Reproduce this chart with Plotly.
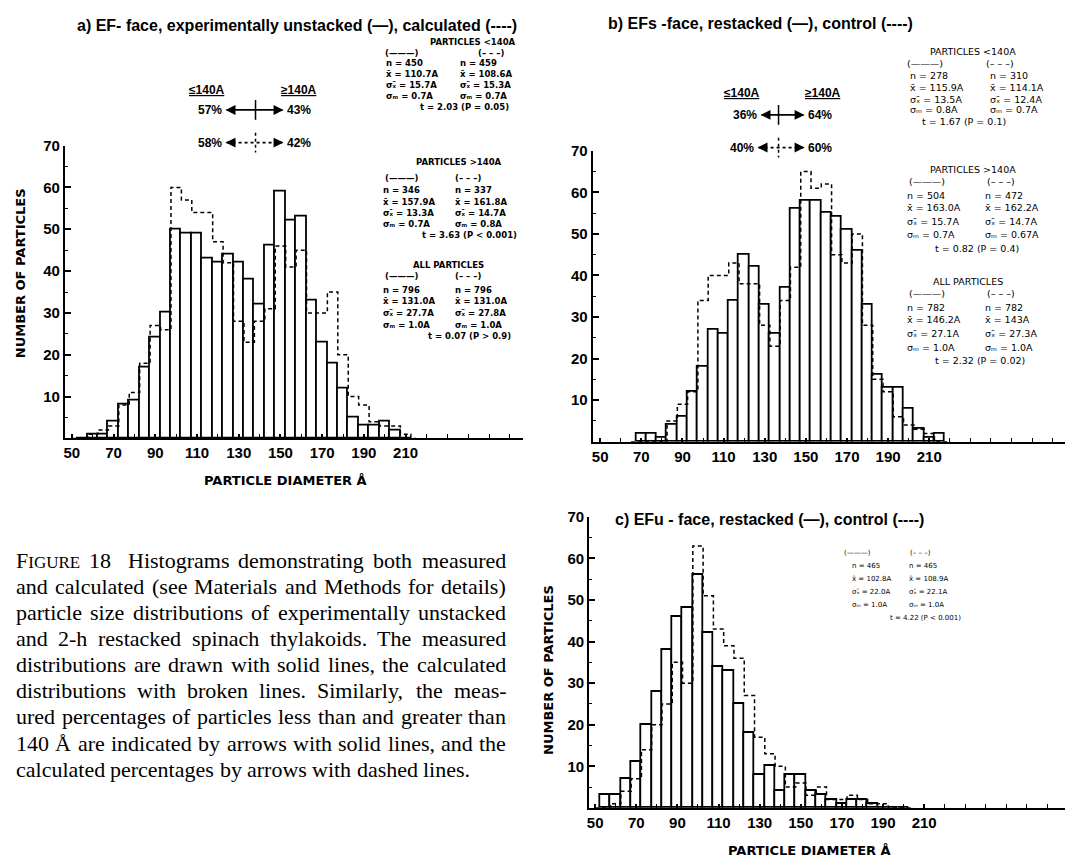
import plotly.graph_objects as go

W, H = 1071, 857
SANS = "Liberation Sans"
DJ = "DejaVu Sans"
SERIF = "Liberation Serif"

# ---------------- data ----------------
# a) EF-face, experimentally unstacked (measured) vs calculated
a_centers = list(range(55, 215, 5))
a_measured = [0, 1, 1, 4, 8, 9, 17, 24, 30, 50, 49, 49, 43, 42, 44, 42, 38, 32, 46, 59,
              52, 53, 33, 23, 18, 12, 5, 3, 3, 4, 2, 0]
a_calculated = [0, 1, 2, 3, 8, 11, 18, 27, 26, 60, 57, 54, 54, 47, 42, 28, 23, 28, 31, 46,
                41, 45, 30, 30, 35, 20, 10, 8, 4, 3, 3, 1]

# b) EFs-face, restacked vs control
b_centers = list(range(70, 220, 5))
b_measured = [2, 2, 1, 4, 6, 12, 18, 27, 26, 34, 45, 42, 33, 26, 37, 56, 58, 58, 55, 54,
              51, 46, 33, 16, 13, 13, 8, 3, 1, 2]
b_control = [0, 0, 0, 5, 9, 12, 34, 40, 40, 43, 38, 38, 28, 23, 34, 42, 65, 61, 62, 45,
             43, 50, 28, 15, 12, 6, 4, 3, 2, 0]

# c) EFu-face, restacked vs control
c_centers = list(range(55, 205, 5))
c_measured = [3, 3, 7, 11, 20, 28, 38, 46, 48, 56, 42, 34, 33, 25, 18, 8, 10, 4, 8, 8,
              4, 3, 2, 1, 2, 2, 1, 0, 0, 0]
c_control = [0, 1, 4, 7, 14, 20, 25, 35, 30, 63, 51, 43, 39, 36, 27, 17, 13, 10, 5, 6,
             3, 5, 2, 2, 3, 2, 1, 1, 0, 0]

x_tick_vals = [50, 70, 90, 110, 130, 150, 170, 190, 210]
y_tick_vals = [10, 20, 30, 40, 50, 60, 70]

stats_a = [
    ("PARTICLES <140A", ["450", "110.7A", "15.7A", "0.7A"], ["459", "108.6A", "15.3A", "0.7A"], "t = 2.03 (P = 0.05)"),
    ("PARTICLES >140A", ["346", "157.9A", "13.3A", "0.7A"], ["337", "161.8A", "14.7A", "0.8A"], "t = 3.63 (P < 0.001)"),
    ("ALL PARTICLES", ["796", "131.0A", "27.7A", "1.0A"], ["796", "131.0A", "27.8A", "1.0A"], "t = 0.07 (P > 0.9)"),
]
stats_b = [
    ("PARTICLES <140A", ["278", "115.9A", "13.5A", "0.8A"], ["310", "114.1A", "12.4A", "0.7A"], "t = 1.67 (P = 0.1)"),
    ("PARTICLES >140A", ["504", "163.0A", "15.7A", "0.7A"], ["472", "162.2A", "14.7A", "0.67A"], "t = 0.82 (P = 0.4)"),
    ("ALL PARTICLES", ["782", "146.2A", "27.1A", "1.0A"], ["782", "143A", "27.3A", "1.0A"], "t = 2.32 (P = 0.02)"),
]
stats_c = [
    ("", ["465", "102.8A", "22.0A", "1.0A"], ["465", "108.9A", "22.1A", "1.0A"], "t = 4.22 (P < 0.001)"),
]

caption_lines = [
    "FIGURE 18 Histograms demonstrating both measured",
    "and calculated (see Materials and Methods for details)",
    "particle size distributions of experimentally unstacked",
    "and 2-h restacked spinach thylakoids. The measured",
    "distributions are drawn with solid lines, the calculated",
    "distributions with broken lines. Similarly, the meas-",
    "ured percentages of particles less than and greater than",
    "140 Å are indicated by arrows with solid lines, and the",
    "calculated percentages by arrows with dashed lines.",
]

# ---------------- helpers ----------------
def px(x):
    return x / W

def py(y):
    return 1 - y / H

annotations = []
shapes = []

def T(x, y, s, size=9, bold=False, xanchor="center", family=SANS, angle=0):
    annotations.append(dict(
        x=px(x), y=py(y), xref="paper", yref="paper", text=s, showarrow=False,
        xanchor=xanchor, yanchor="middle", textangle=angle,
        font=dict(size=size, family=family, color="black",
                  weight="bold" if bold else "normal")))

def line(x0, y0, x1, y1, dash="solid", width=1.8):
    shapes.append(dict(type="line", xref="paper", yref="paper",
                       x0=px(x0), y0=py(y0), x1=px(x1), y1=py(y1),
                       line=dict(color="black", width=width, dash=dash)))

def head(x, y, direction):
    annotations.append(dict(
        x=px(x), y=py(y), xref="paper", yref="paper", text="", showarrow=True,
        ax=9 * direction, ay=0, arrowhead=2, arrowsize=1.1, arrowwidth=1.8,
        arrowcolor="black", standoff=0, startstandoff=0))

def pct_arrows(y, left_txt, right_txt, xl, xc, xr, dashed, size=12):
    T(xl, y, left_txt, size=size, bold=True, xanchor="right")
    T(xr, y, right_txt, size=size, bold=True, xanchor="left")
    d = "3px,3px" if dashed else "solid"
    line(xl + 3, y, xr - 3, y, dash=d)
    line(xc, y - 10, xc, y + 10, dash=d, width=1.5)
    head(xl + 2, y, 1)
    head(xr - 2, y, -1)

XBAR = "x\u0304"
SIG_X = "\u03c3\u2093\u0304"
SIG_M = "\u03c3\u2098"

def stats_block(block, hx, hy, lpx, rpx, pary, lx, rx, rows_y, tx, ty, size, bold):
    header, lv, rv, ttxt = block
    if header:
        T(hx, hy, header, size=size, bold=bold, family=DJ)
    T(lpx, pary, "(\u2014\u2014\u2014)", size=size, bold=bold, family=DJ)
    T(rpx, pary, "(\u2013 \u2013 \u2013)", size=size, bold=bold, family=DJ)
    labels = ["n = ", XBAR + " = ", SIG_X + " = ", SIG_M + " = "]
    for lab, a, b, yy in zip(labels, lv, rv, rows_y):
        T(lx, yy, lab + a, size=size, bold=bold, xanchor="left", family=DJ)
        T(rx, yy, lab + b, size=size, bold=bold, xanchor="left", family=DJ)
    T(tx, ty, ttxt, size=size, bold=bold, family=DJ)

# Times-compatible advance widths (per 1000 em) for justifying the caption
TW = {" ": 250, "(": 333, ")": 333, ",": 250, "-": 333, ".": 250, "Å": 722,
      "A": 722, "F": 556, "H": 722, "I": 333, "G": 722, "U": 722, "R": 667, "E": 611,
      "M": 889, "S": 556, "T": 611,
      "a": 444, "b": 500, "c": 444, "d": 500, "e": 444, "f": 333, "g": 500, "h": 500,
      "i": 278, "j": 278, "k": 500, "l": 278, "m": 778, "n": 500, "o": 500, "p": 500,
      "q": 500, "r": 333, "s": 389, "t": 278, "u": 500, "v": 500, "w": 722, "x": 500,
      "y": 500, "z": 444}
CAP = 22
SC = 17

def word_markup(w):
    if w == "FIGURE":
        return ("F<span style='font-size:%dpx'>IGURE</span>" % SC,
                (556 * CAP + sum(TW[c] for c in "IGURE") * SC) / 1000)
    return w, sum(TW.get(c, 500) for c in w) * CAP / 1000

# ---------------- figure ----------------
fig = go.Figure()

def add_panel(idx, centers, measured, calc):
    xa = "x" if idx == 1 else f"x{idx}"
    ya = "y" if idx == 1 else f"y{idx}"
    fig.add_trace(go.Bar(x=centers, y=measured, width=5, xaxis=xa, yaxis=ya,
                         marker=dict(color="white", line=dict(color="black", width=1.8)),
                         showlegend=False, hoverinfo="skip"))
    xs = [centers[0] - 5] + list(centers) + [centers[-1] + 5]
    ys = [0] + list(calc) + [0]
    fig.add_trace(go.Scatter(x=xs, y=ys, mode="lines", xaxis=xa, yaxis=ya,
                             line=dict(color="black", width=1.5, dash="4px,3px", shape="hvh"),
                             showlegend=False, hoverinfo="skip"))

add_panel(1, a_centers, a_measured, a_calculated)
add_panel(2, b_centers, b_measured, b_control)
add_panel(3, c_centers, c_measured, c_control)

tickfont = dict(family=SANS, size=15, color="black", weight="bold")

def xaxis(domain, rng, anchor):
    return dict(domain=domain, range=rng, anchor=anchor, showgrid=False, zeroline=False,
                showline=True, linecolor="black", linewidth=2,
                tickmode="array", tickvals=x_tick_vals, ticks="inside", ticklen=4,
                tickwidth=1.5, tickcolor="black", tickfont=tickfont,
                minor=dict(tickmode="linear", tick0=50, dtick=10, ticks="inside",
                           ticklen=4, tickwidth=1.2, tickcolor="black"))

def yaxis(domain, anchor):
    return dict(domain=domain, range=[0, 70], anchor=anchor, showgrid=False, zeroline=False,
                showline=True, linecolor="black", linewidth=2,
                tickmode="array", tickvals=y_tick_vals, ticks="inside", ticklen=6,
                tickwidth=1.5, tickcolor="black", tickfont=tickfont,
                minor=dict(tickmode="linear", tick0=0, dtick=5, ticks="inside",
                           ticklen=3, tickwidth=1.2, tickcolor="black"))

fig.update_layout(
    xaxis=xaxis([px(63), px(522)], [46.65, 266.3], "y"),
    yaxis=yaxis([py(434), py(138)], "x"),
    xaxis2=xaxis([px(591.7), px(1065)], [46.3, 276], "y2"),
    yaxis2=yaxis([py(437.3), py(143.3)], "x2"),
    xaxis3=xaxis([px(588.3), px(1065)], [47.1, 278.5], "y3"),
    yaxis3=yaxis([py(807.3), py(513.3)], "x3"),
)

# ---- panel a text ----
T(296, 17, "a) EF- face, experimentally unstacked (\u2014), calculated (----)", size=16, bold=True)
T(205, 82, "<u>\u2264140A</u>", size=12, bold=True)
T(298, 82, "<u>\u2265140A</u>", size=12, bold=True)
pct_arrows(102, "57%", "43%", 222, 254, 284, False)
pct_arrows(135, "58%", "42%", 222, 254, 284, True)
stats_block(stats_a[0], 472, 33, 400, 490, 44, 383, 457, [55, 66, 77, 88], 463, 99, 8.5, True)
stats_block(stats_a[1], 458, 155, 400, 467, 171, 380, 452, [183, 195, 206.5, 217.5], 468, 228, 8.5, True)
stats_block(stats_a[2], 447, 259, 400, 467, 270, 380, 452, [284, 295, 307, 319], 468, 330, 8.5, True)
T(18, 267, "NUMBER OF PARTICLES", size=13, bold=True, angle=-90, family=DJ)
T(284, 477, "PARTICLE DIAMETER Å", size=13, bold=True, family=DJ)

# ---- panel b text ----
T(760, 15, "b) EFs -face, restacked (\u2014), control (----)", size=16, bold=True)
T(741, 85, "<u>\u2264140A</u>", size=12, bold=True)
T(823, 85, "<u>\u2265140A</u>", size=12, bold=True)
pct_arrows(107, "36%", "64%", 758, 778, 806, False)
pct_arrows(140, "40%", "60%", 755, 778, 806, True)
stats_block(stats_b[0], 973, 43, 925, 1000, 55, 908, 988, [67, 79, 91, 102], 964, 114, 9.5, False)
stats_block(stats_b[1], 973, 162, 927, 1001, 174, 905, 983, [188, 201, 215, 228], 977, 242, 9.5, False)
stats_block(stats_b[2], 968, 275, 927, 1001, 288, 905, 983, [302, 314, 328, 342], 980, 355, 9.5, False)

# ---- panel c text ----
T(769, 516, "c) EFu - face, restacked (\u2014), control (----)", size=16, bold=True)
stats_block(stats_c[0], 0, 0, 857, 920, 550, 850, 907, [563, 576, 589, 602], 925, 615, 7, False)
T(548, 668, "NUMBER OF PARTICLES", size=13, bold=True, angle=-90, family=DJ)
T(809, 850, "PARTICLE DIAMETER Å", size=13, bold=True, family=DJ)

# ---- caption (justified word by word) ----
LEFT, RIGHT = 12, 503
for i, s in enumerate(caption_lines):
    items = [word_markup(w) for w in s.split()]
    total = sum(wd for _, wd in items)
    extra = [0.0] * len(items)
    if i == 0:
        extra[1] = 7.0
    if i < len(caption_lines) - 1:
        gap = max((RIGHT - LEFT - total - sum(extra)) / (len(items) - 1), 3.0)
    else:
        gap = 250 * CAP / 1000
    x = LEFT
    for j, (m, wd) in enumerate(items):
        T(x, 557 + i * 26.4, m, size=CAP, family=SERIF, xanchor="left")
        x += wd + gap + extra[j]

fig.update_layout(
    width=W, height=H, autosize=False,
    margin=dict(l=0, r=0, t=0, b=0, pad=0),
    paper_bgcolor="white", plot_bgcolor="white",
    annotations=annotations, shapes=shapes,
    bargap=0, showlegend=False,
)

fig.write_html("out.html", config={"displayModeBar": False},
               post_script="document.body.style.margin='0px';")
